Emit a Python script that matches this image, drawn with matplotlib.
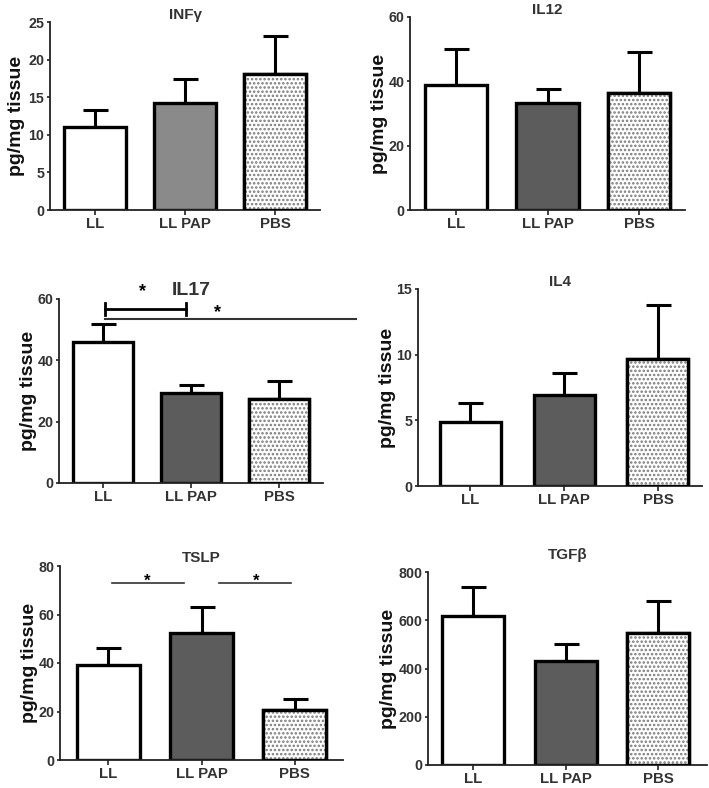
import matplotlib

matplotlib.use("Agg")
import matplotlib.pyplot as plt

plt.rcParams["font.family"] = ["Liberation Sans", "DejaVu Sans"]
plt.rcParams["hatch.linewidth"] = 1.2

groups = ["LL", "LL PAP", "PBS"]

infg_mean = [11.0, 14.2, 18.1]
infg_err = [2.3, 3.2, 5.1]
il12_mean = [39.0, 33.3, 36.3]
il12_err = [11.0, 4.2, 12.9]
il17_mean = [46.0, 29.5, 27.5]
il17_err = [6.0, 2.3, 5.8]
il4_mean = [4.85, 6.9, 9.7]
il4_err = [1.5, 1.7, 4.1]
tslp_mean = [39.0, 52.5, 20.8]
tslp_err = [7.0, 10.5, 4.2]
tgfb_mean = [618, 432, 548]
tgfb_err = [119, 68, 130]

W, H = 709, 788
fig = plt.figure(figsize=(W / 100, H / 100), dpi=100)


def px_axes(left, right, top, bottom):
    return fig.add_axes([left / W, 1 - bottom / H, (right - left) / W, (bottom - top) / H])


def panel(ax, means, errs, ylim, yticks, title, xlim, width, dark="#5c5c5c",
          title_size=11, title_pad=0, labelx=-0.09):
    xs = list(range(len(groups)))
    fills = ["white", dark, "white"]
    for x, m, f in zip(xs, means, fills):
        ax.bar(x, m, width=width, color=f, edgecolor="black", linewidth=2.4, zorder=2)
    # puntos del PBS en gris
    ax.bar(xs[2], means[2], width=width, color="white", edgecolor="#7a7a7a",
           hatch="....", linewidth=0, zorder=2)
    ax.bar(xs[2], means[2], width=width, fill=False, edgecolor="black", linewidth=2.4, zorder=3)
    ax.errorbar(xs, means, yerr=[[0, 0, 0], errs], fmt="none", ecolor="black",
                elinewidth=2.2, capsize=9, capthick=2.2, zorder=1)
    ax.set_xlim(*xlim)
    ax.set_ylim(*ylim)
    ax.set_yticks(yticks)
    ax.set_xticks(xs)
    ax.set_xticklabels(groups)
    for s in ["top", "right"]:
        ax.spines[s].set_visible(False)
    for s in ["left", "bottom"]:
        ax.spines[s].set_linewidth(1.3)
        ax.spines[s].set_color("#222222")
    ax.tick_params(axis="y", width=1.3, length=2.5, pad=1.5, labelsize=10.3, colors="#333333")
    ax.tick_params(axis="x", width=1.3, length=3.5, pad=1.5, labelsize=10.8, colors="#333333")
    for lab in ax.get_xticklabels() + ax.get_yticklabels():
        lab.set_fontweight("bold")
    ax.set_ylabel("pg/mg tissue", fontsize=14, fontweight="bold", color="#111111")
    ax.yaxis.set_label_coords(labelx, 0.5)
    ax.set_title(title, fontsize=title_size, fontweight="bold", color="#333333", pad=title_pad)


ax1 = px_axes(50, 320, 22, 210)
panel(ax1, infg_mean, infg_err, (0, 25), [0, 5, 10, 15, 20, 25], "INFγ",
      (-0.5, 2.5), 0.69, dark="#8a8a8a", title_pad=-4, labelx=-0.093)

ax2 = px_axes(410, 685, 17, 210)
panel(ax2, il12_mean, il12_err, (0, 60), [0, 20, 40, 60], "IL12",
      (-0.5, 2.5), 0.68, title_pad=-1, labelx=-0.08)

ax3 = px_axes(59, 323, 299, 483)
panel(ax3, il17_mean, il17_err, (0, 60), [0, 20, 40, 60], "IL17",
      (-0.5, 2.5), 0.68, title_size=14, title_pad=-2, labelx=-0.083)
# significancia IL17
ax3.plot([0.02, 0.94], [56.7, 56.7], color="black", lw=2, clip_on=False)
ax3.plot([0.02, 0.02], [54.8, 58.7], color="black", lw=2, clip_on=False)
ax3.plot([0.94, 0.94], [54.8, 58.7], color="black", lw=2, clip_on=False)
ax3.text(0.45, 62.5, "*", ha="center", va="center", fontsize=13, fontweight="bold", clip_on=False)
ax3.plot([0.02, 2.87], [53.5, 53.5], color="#333333", lw=1.5, clip_on=False)
ax3.text(1.3, 55.6, "*", ha="center", va="center", fontsize=13, fontweight="bold", clip_on=False)

ax4 = px_axes(418, 702, 289, 486)
panel(ax4, il4_mean, il4_err, (0, 15), [0, 5, 10, 15], "IL4",
      (-0.56, 2.47), 0.65, title_pad=-5, labelx=-0.078)

ax5 = px_axes(60, 343, 566, 760)
panel(ax5, tslp_mean, tslp_err, (0, 80), [0, 20, 40, 60, 80], "TSLP",
      (-0.52, 2.52), 0.67, title_pad=3, labelx=-0.078)
ax5.plot([0.04, 0.81], [73, 73], color="#333333", lw=1.2)
ax5.plot([1.19, 1.96], [73, 73], color="#333333", lw=1.2)
ax5.text(0.42, 73.5, "*", ha="center", va="center", fontsize=12, fontweight="bold")
ax5.text(1.59, 73.5, "*", ha="center", va="center", fontsize=12, fontweight="bold")

ax6 = px_axes(428, 707, 572, 765)
panel(ax6, tgfb_mean, tgfb_err, (0, 800), [0, 200, 400, 600, 800], "TGFβ",
      (-0.49, 2.53), 0.67, title_pad=9, labelx=-0.11)

fig.savefig("out.png", dpi=100)
